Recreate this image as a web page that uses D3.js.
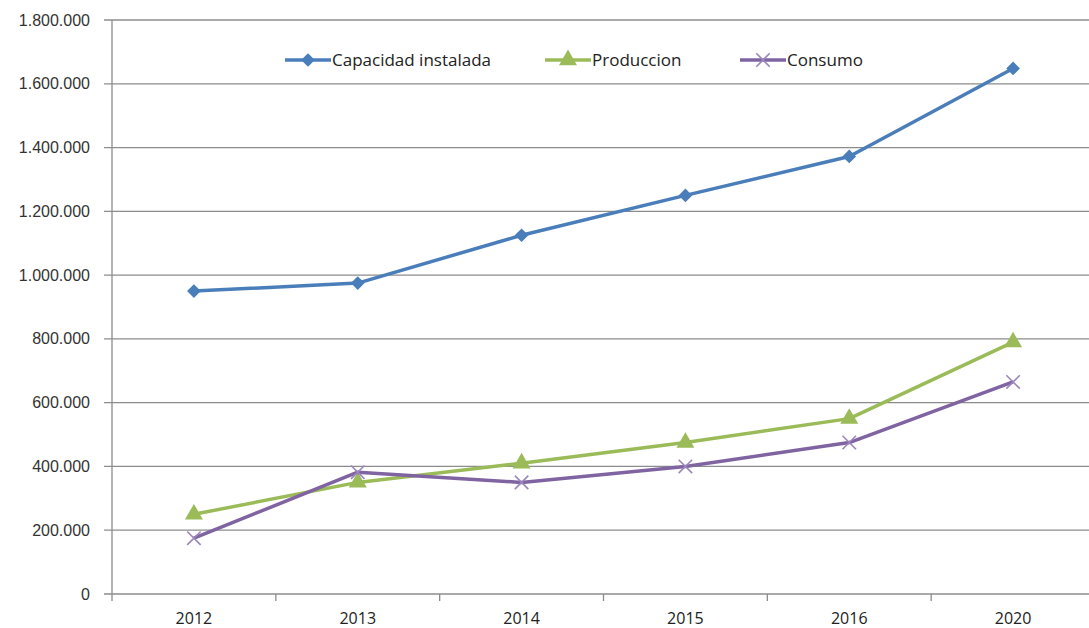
<!DOCTYPE html>
<html>
<head>
<meta charset="utf-8">
<script src="https://cdn.jsdelivr.net/npm/d3@7"></script>
<style>
  body { margin: 0; background: #fff; overflow: hidden; }
  svg { display: block; }
</style>
</head>
<body>
<div id="chart"></div>
<script>
// data
const years = ["2012", "2013", "2014", "2015", "2016", "2020"];
const capacidad = [950000, 975000, 1125000, 1250000, 1372000, 1648000];
const produccion = [250000, 350000, 410000, 475000, 550000, 790000];
const consumo = [175000, 382000, 350000, 400000, 475000, 665000];
const yTicks = [0, 200000, 400000, 600000, 800000, 1000000, 1200000, 1400000, 1600000, 1800000];

const W = 1089, H = 628;
const margin = { top: 20, right: -6, bottom: 34, left: 112 };
const width = W - margin.left - margin.right;
const height = H - margin.top - margin.bottom;

const svg = d3.select("#chart").append("svg").attr("width", W).attr("height", H);
const g = svg.append("g").attr("transform", `translate(${margin.left},${margin.top})`);

const x = d3.scaleBand().domain(years).range([0, width]);
const y = d3.scaleLinear().domain([0, 1800000]).range([height, 0]);

const grid = "#8c8c8c";
const fmt = d => d === 0 ? "0" : d3.format(",")(d).replace(/,/g, ".");

// gridlines + y ticks
g.selectAll(".grid").data(yTicks).enter().append("line")
  .attr("x1", -8).attr("x2", width)
  .attr("y1", d => y(d)).attr("y2", d => y(d))
  .attr("stroke", grid).attr("stroke-width", 1.3);

g.selectAll(".ylab").data(yTicks).enter().append("text")
  .attr("x", -22).attr("y", d => y(d)).attr("dy", "0.35em")
  .attr("text-anchor", "end")
  .style("font-family", "'Liberation Sans', Arial, sans-serif")
  .style("font-size", "16px").attr("fill", "#333")
  .text(fmt);

// y axis line
g.append("line").attr("x1", 0).attr("x2", 0).attr("y1", 0).attr("y2", height)
  .attr("stroke", grid).attr("stroke-width", 1.3);

// x ticks between categories
const bounds = years.map(d => x(d)).concat([width]);
g.selectAll(".xt").data(bounds).enter().append("line")
  .attr("x1", d => d).attr("x2", d => d).attr("y1", height).attr("y2", height + 7)
  .attr("stroke", grid).attr("stroke-width", 1.3);

g.selectAll(".xlab").data(years).enter().append("text")
  .attr("x", d => x(d) + x.bandwidth() / 2).attr("y", height + 30)
  .attr("text-anchor", "middle")
  .style("font-family", "'Open Sans', 'Noto Sans', sans-serif")
  .style("font-size", "16px").attr("fill", "#222")
  .text(d => d);

// series
const series = [
  { name: "Capacidad instalada", values: capacidad, color: "#4a7ebb", sym: d3.symbolDiamond2, size: 120 },
  { name: "Produccion", values: produccion, color: "#9bbb59", sym: d3.symbolTriangle, size: 140 },
  { name: "Consumo", values: consumo, color: "#8064a2", sym: d3.symbolX, size: 120 }
];

const cx = i => x(years[i]) + x.bandwidth() / 2;
const line = d3.line().x((d, i) => cx(i)).y(d => y(d));

function marker(sel, s, px, py) {
  const p = sel.append("path")
    .attr("d", d3.symbol().type(s.sym).size(s.size)())
    .attr("transform", `translate(${px},${py})`);
  if (s.sym === d3.symbolX) {
    p.attr("fill", "none").attr("stroke", "#9a86bb").attr("stroke-width", 1.6);
  } else {
    p.attr("fill", s.color);
  }
}

series.forEach(s => {
  g.append("path").datum(s.values)
    .attr("d", line).attr("fill", "none")
    .attr("stroke", s.color).attr("stroke-width", 3.5)
    .attr("stroke-linejoin", "round");
  s.values.forEach((v, i) => marker(g, s, cx(i), y(v)));
});

// legend
const legendX = [285, 545, 740];
const leg = svg.append("g");
series.forEach((s, i) => {
  const lx = legendX[i], ly = 60;
  leg.append("line").attr("x1", lx).attr("x2", lx + 46).attr("y1", ly).attr("y2", ly)
    .attr("stroke", s.color).attr("stroke-width", 3.5);
  marker(leg, s, lx + 23, ly);
  leg.append("text").attr("x", lx + 47).attr("y", ly).attr("dy", "0.35em")
    .style("font-family", "'Open Sans', 'Noto Sans', sans-serif")
    .style("font-size", "17px").attr("fill", "#222")
    .text(s.name);
});
</script>
</body>
</html>
